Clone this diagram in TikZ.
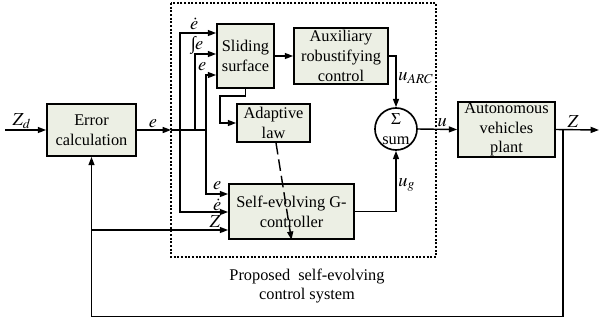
\documentclass[tikz,border=0pt]{standalone}
\usepackage{mathptmx}
\usepackage{fontspec}
\setmainfont{Liberation Serif}
\usepackage{tikz}
\usetikzlibrary{calc,arrows.meta}
\definecolor{blockfill}{RGB}{236,239,228}
\newcommand{\blockfont}{\fontsize{9.8}{11.8}\selectfont}
\newcommand{\labelfont}{\fontsize{11}{12}\selectfont}
\tikzset{
	block/.style={draw,fill=blockfill,line width=1.05pt,align=center,inner sep=0pt,font=\blockfont},
	sumnode/.style={circle,draw,line width=1pt,minimum size=25.2pt,inner sep=0pt,align=center,font=\blockfont},
	directed/.style={line width=0.85pt,arrows={-Triangle[length=5pt,width=3.6pt]}},
	wire/.style={line width=0.85pt},
	lbl/.style={draw=none,inner sep=1pt,font=\labelfont},
	frame/.style={line width=0.8pt,dash pattern=on 1.2pt off 1pt}
}

\begin{document}
\begin{tikzpicture}[x=0.6pt,y=-0.6pt]
		\useasboundingbox (0,0) rectangle (600,324);
		% controller frame
		\draw[frame] (171,3) rectangle (436,257);
		\node[lbl,font=\blockfont,align=center] (cap) at (307,286) {Proposed\ \ self-evolving\\control system};
		
		\node[block,minimum width=53.4pt,minimum height=31.2pt] (err) at (91.5,130) {Error\\calculation};
		\node[block,minimum width=34.2pt,minimum height=38.4pt] (slide) at (245.5,56) {Sliding\\surface};
		\node[block,minimum width=56.4pt,minimum height=33.6pt] (aux) at (341,56) {Auxiliary\\robustifying\\control};
		\node[block,minimum width=43.8pt,minimum height=22.8pt] (adapt) at (273.5,123) {Adaptive\\law};
		\node[sumnode] (sum) at (396,129) {$\Sigma$\\sum};
		\node[block,minimum width=58.2pt,minimum height=33pt] (plant) at (506.5,129.5) {Autonomous\\vehicles\\plant};
		\node[block,minimum width=75pt,minimum height=33pt] (ctrl) at (291.5,211.5) {Self-evolving G-\\controller};
		
		% entry points and junctions
		\coordinate (zin) at (5,130);
		\coordinate (ein) at (171,130);
		\coordinate (ja) at ($(ein)+(9,0)$);
		\coordinate (jb) at ($(ein)+(24,0)$);
		\coordinate (jc) at ($(ein)+(35,0)$);
		\coordinate (sIn1) at ($(slide.west)+(0,-23)$);
		\coordinate (sIn2) at ($(slide.west)+(0,-2)$);
		\coordinate (sIn3) at ($(slide.west)+(0,19)$);
		\coordinate (cIn1) at ($(ctrl.west)+(0,-17.5)$);
		\coordinate (cIn2) at ($(ctrl.west)+(0,0.5)$);
		\coordinate (cIn3) at ($(ctrl.west)+(0,18.5)$);
		\coordinate (zb) at ($(plant.east)+(7,0)$);
		\coordinate (zout) at (599,130);
		
		\draw[directed] (zin) -- (err.west);
		\node[lbl] (zdl) at (22,121) {$Z_d$};
		\draw[directed] (err.east) -- node[lbl,above,pos=0.47] (el) {$e$} (ein);
		\draw[wire] (ein) -- (jc);
		
		% error signals into the sliding surface
		\draw[directed] (ja) |- (sIn1);
		\draw[directed] (jb) |- (sIn2);
		\draw[directed] (jc) |- (sIn3);
		\node[lbl] (sl1) at ($(sIn1)+(-22,-9)$) {$\dot e$};
		\node[lbl] (sl2) at ($(sIn2)+(-19,-9)$) {∫\kern-0.5pt$e$};
		\node[lbl] (sl3) at ($(sIn3)+(-14,-8)$) {$e$};
		
		% inputs of the G-controller
		\draw[directed] (jc) |- (cIn1);
		\draw[directed] (ja) |- (cIn2);
		\draw[directed] (err.south |- cIn3) -- (cIn3);
		\node[lbl] (cl1) at ($(cIn1)+(-11,-8)$) {$e$};
		\node[lbl] (cl2) at ($(cIn2)+(-11,-7)$) {$\dot e$};
		\node[lbl] (cl3) at ($(cIn3)+(-13,-8)$) {$Z$};
		
		\draw[directed] (slide) -- (aux);
		\draw[directed] (slide.south) -- ++(0,7) -| ($(adapt.west)+(-16,0)$) -- (adapt.west);
		\draw[directed] (aux.east) -| node[lbl,right,pos=0.72] (ual) {$u_{ARC}$} (sum.north);
		\draw[directed] (ctrl.east) -| node[lbl,right,pos=0.72] (ugl) {$u_g$} (sum.south);
		\draw[directed] (sum.east) -- node[lbl,above,pos=0.62] (ul) {$u$} (plant.west);
		\draw[directed] (plant.east) -- node[lbl,above,pos=0.4] (zl) {$Z$} (zout);
		\draw[directed,dash pattern=on 7pt off 3pt] ($(adapt.south)+(2.5,0)$) -- (ctrl.south);
		
		% feedback of the plant output
		\draw[directed] (zb) -- ++(0,187) -| (err.south);
\end{tikzpicture}
\end{document}
